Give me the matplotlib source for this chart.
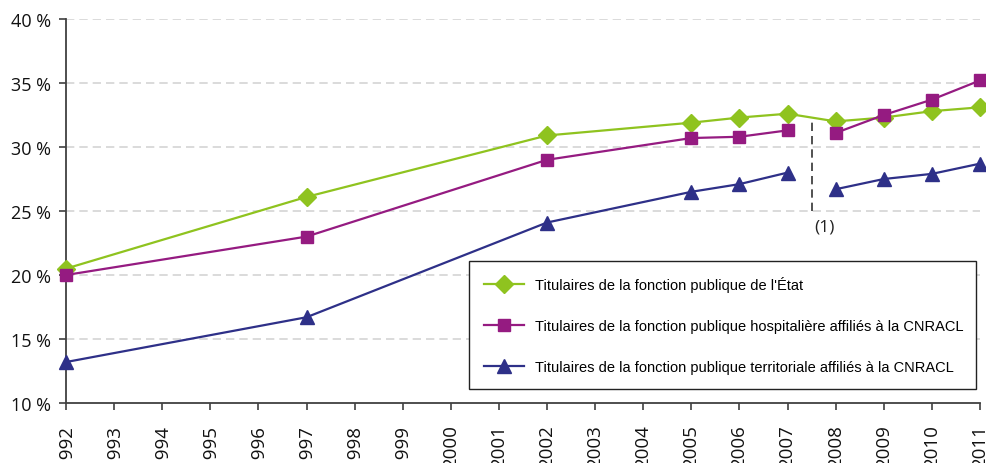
import matplotlib
matplotlib.use("Agg")
import matplotlib.pyplot as plt
import numpy as np

years = [1992, 1997, 2002, 2005, 2006, 2007, 2008, 2009, 2010, 2011]
etat = [20.5, 26.1, 30.9, 31.9, 32.3, 32.6, 32.0, 32.3, 32.8, 33.1]
hosp = [20.0, 23.0, 29.0, 30.7, 30.8, 31.3, 31.1, 32.5, 33.7, 35.2]
terr = [13.2, 16.7, 24.1, 26.5, 27.1, 28.0, 26.7, 27.5, 27.9, 28.7]
labels = ["Titulaires de la fonction publique de l'État",
          "Titulaires de la fonction publique hospitalière affiliés à la CNRACL",
          "Titulaires de la fonction publique territoriale affiliés à la CNRACL"]
xticks = list(range(1992, 2012))
yticks = [10, 15, 20, 25, 30, 35, 40]
break_year = 2007.5
note_label = "(1)"

c_etat = "#8fc31f"
c_hosp = "#951b81"
c_terr = "#2e3088"

fig = plt.figure(figsize=(9.86, 4.64), dpi=100)
ax = fig.add_axes([66/986, 60/464, (980-66)/986, (404-20)/464])

yr = np.array(years)
before = yr < break_year
after = yr > break_year

l1, = ax.plot(years, etat, color=c_etat, marker="D", markersize=9, lw=1.6, clip_on=False, zorder=3)
l2, = ax.plot(yr[before], np.array(hosp)[before], color=c_hosp, marker="s", markersize=8.5, lw=1.6, clip_on=False, zorder=3)
ax.plot(yr[after], np.array(hosp)[after], color=c_hosp, marker="s", markersize=8.5, lw=1.6, clip_on=False, zorder=3)
l3, = ax.plot(yr[before], np.array(terr)[before], color=c_terr, marker="^", markersize=10, lw=1.6, clip_on=False, zorder=3)
ax.plot(yr[after], np.array(terr)[after], color=c_terr, marker="^", markersize=10, lw=1.6, clip_on=False, zorder=3)

ax.plot([break_year, break_year], [25.0, 32.1], color="#333333", lw=1.2, ls=(0, (5, 3)), zorder=2)
ax.text(break_year + 0.05, 24.4, note_label, fontsize=12.5, family="Open Sans", va="top", ha="left", color="#222222")

ax.set_xlim(1992, 2011)
ax.set_ylim(10, 40)
ax.set_xticks(xticks)
ax.set_xticklabels([str(x) for x in xticks], rotation=90, family="Open Sans", fontsize=13.5)
ax.set_yticks(yticks)
ax.set_yticklabels([f"{y} %" for y in yticks], family="Open Sans", fontsize=13)

for y in yticks[1:]:
    ax.axhline(y, color="#d4d4d4", lw=1.2, ls=(0, (5, 3)), zorder=1)

for s in ["top", "right"]:
    ax.spines[s].set_visible(False)
for s in ["left", "bottom"]:
    ax.spines[s].set_color("#404040")
    ax.spines[s].set_linewidth(1.3)
ax.tick_params(axis="both", direction="out", length=5, width=1.2, color="#404040", labelcolor="#111111")
ax.tick_params(axis="x", pad=10)
ax.tick_params(axis="y", pad=6)

leg = ax.legend([l1, l2, l3], labels, loc="lower left",
                bbox_to_anchor=(0.441, 0.036, 0.555, 0.329), mode="expand",
                prop={"family": "Liberation Sans", "size": 10.5},
                handlelength=2.7, labelspacing=1.85, borderpad=1.05, handletextpad=0.8,
                fancybox=False, framealpha=1, edgecolor="#222222", borderaxespad=0)
leg.get_frame().set_linewidth(1.0)

fig.savefig("out.png", dpi=100)
